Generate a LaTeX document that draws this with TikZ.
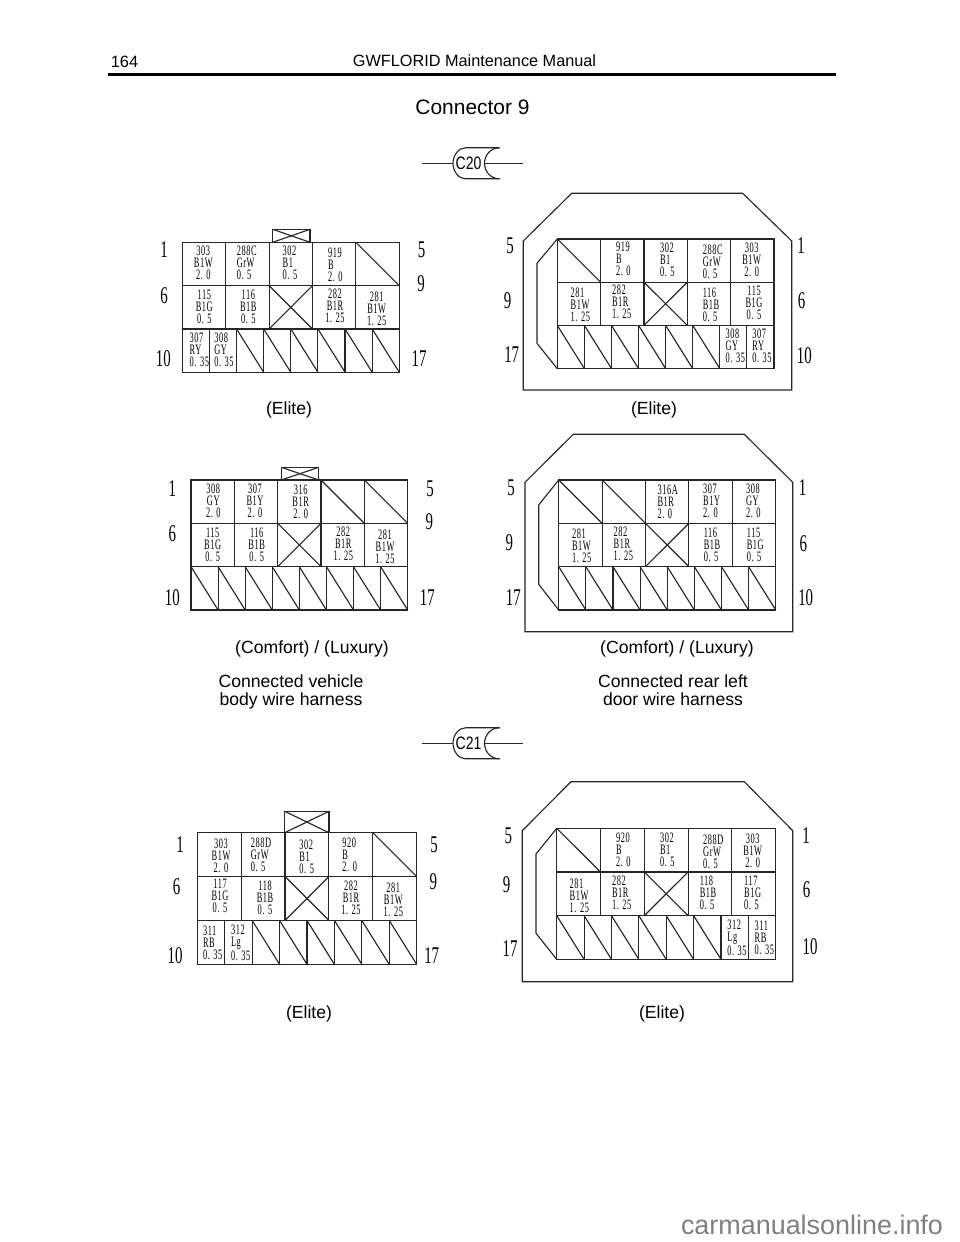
\documentclass[tikz,border=0pt]{standalone}
\usepackage{fontspec}
\setmainfont{Liberation Sans}
\newfontfamily\wirefont[FakeStretch=0.58,LetterSpace=4]{Liberation Serif}
\newfontfamily\narrowserif[FakeStretch=0.62]{Liberation Serif}
\newfontfamily\narrowsans[FakeStretch=0.78]{Liberation Sans}
\tikzset{
	wirelabel/.style={inner sep=0pt, align=center, font=\fontsize{10.8}{9}\wirefont},
	leftwire/.style={align=left},
	pinlabel/.style={inner sep=0pt, font=\fontsize{18}{18}\narrowserif},
	caption/.style={inner sep=0pt, align=center, font=\fontsize{13.2}{13.5}\selectfont},
	hull/.style={line width=0.85pt, draw=black!85},
	cavity/.style 2 args={x=#1*0.75pt, y=-#2*0.75pt, line width=0.85pt, draw=black!85}
}
\def\wire[#1]#2(#3)#4{\node[wirelabel,#1] (#2) at (#3) {#4};}
\def\pin#1(#2)#3{\node[pinlabel] (#1) at (#2) {#3};}
\def\slashcell(#1,#2){\draw (#1,#2) -- ++(1,1);}
\def\crosscell(#1,#2){\draw (#1,#2) -- ++(1,1); \draw (#1+1,#2) -- ++(-1,1);}
\def\cavitygrid{
	\draw (0,0) rectangle (5,3);
	\draw (0,1) -- (5,1);
	\draw (0,2) -- (5,2);
	\foreach \i in {1,...,4} \draw (\i,0) -- (\i,2);
	\foreach \i in {1,...,7} \draw (\i*0.625,2) -- (\i*0.625,3);
}
\def\latch(#1)(#2){\draw[hull] (#1) rectangle (#2); \draw[hull] (#1 -| #2) -- (#1 |- #2); \draw[hull] (#1) -- (#2);}
\def\plugtag#1(#2)#3{
	\begin{scope}[shift={(#2)}]
		\node[inner sep=0pt, font=\fontsize{13.5}{13.5}\narrowsans] (#1) at (0,0) {#3};
		\coordinate (#1w) at (-47,0);
		\coordinate (#1e) at (54,0);
		\draw[hull] (#1w) -- (-15.5,0);
		\draw[hull] (16,0) -- (#1e);
		\draw[hull] (31,-15.5) -- (-3,-15.5) .. controls (-10,-15.5) and (-15.5,-8) .. (-15.5,0) .. controls (-15.5,8) and (-10,15.5) .. (-3,15.5) -- (31,15.5);
		\draw[hull] (31,-15.5) .. controls (22,-15.5) and (16,-8) .. (16,0) .. controls (16,8) and (22,15.5) .. (31,15.5);
	\end{scope}
}

\begin{document}
\begin{tikzpicture}[x=0.75pt, y=-0.75pt]
		\useasboundingbox (0,0) rectangle (960,1242);
		
		%%%%% PAGE HEAD %%%%%
		\node[inner sep=0pt, font=\fontsize{12.3}{14}\selectfont] (pagenum) at (124.5,62) {164};
		\node[inner sep=0pt, font=\fontsize{12.2}{14}\selectfont] (manual) at (474.5,61) {GWFLORID Maintenance Manual};
		\draw[line width=2pt] (108,74.5) -- (836,74.5);
		\node[caption, font=\fontsize{15.7}{16}\selectfont] (title) at (472.5,107) {Connector 9};
		
		\plugtag{cXX}(468.5,163.3){C20}
		\plugtag{cXI}(468.5,743.3){C21}
		
		%%%%% ELITE, VEHICLE SIDE %%%%%
		\latch(272.7,229.3)(310,242.3)
		\begin{scope}[shift={(182.3,242.3)}, cavity={43.4}{43.33}]
			\cavitygrid
			\slashcell(4,0)
			\crosscell(2,1)
			\foreach \i in {2,...,7} \draw (\i*0.625,2) -- ++(0.625,1);
		\end{scope}
		\wire[]{aa}(203.3,263){303\\B1W\\2. 0}
		\wire[leftwire]{ab}(246.7,263){288C\\GrW\\0. 5}
		\wire[leftwire]{ac}(290,263){302\\B1\\0. 5}
		\wire[leftwire]{ad}(335.3,264.7){919\\B\\2. 0}
		\wire[]{ae}(204.3,307){115\\B1G\\0. 5}
		\wire[]{af}(248.3,307.3){116\\B1B\\0. 5}
		\wire[]{ag}(335,306.3){282\\B1R\\1. 25}
		\wire[]{ah}(376.7,309){281\\B1W\\1. 25}
		\wire[leftwire]{ai}(199.3,350.3){307\\RY\\0. 35}
		\wire[leftwire]{aj}(224,350.3){308\\GY\\0. 35}
		\pin{ap}(164,249.3){1}
		\pin{aq}(164,295.7){6}
		\pin{ar}(163.3,359){10}
		\pin{as}(421.7,249.3){5}
		\pin{at}(421,284){9}
		\pin{au}(419,359){17}
		\node[caption] (acap) at (289,410) {(Elite)};
		
		%%%%% ELITE, DOOR SIDE %%%%%
		\draw[hull] (523.3,241) -- (571.7,193.3) -- (742.7,193.3) -- (791.7,241) -- (791.7,390) -- (523.3,390) -- cycle;
		\draw[hull] (557.3,239) -- (537,263.3) -- (537,343.3) -- (557.3,368.7);
		\begin{scope}[shift={(557.3,239)}, cavity={43.33}{43.2}]
			\cavitygrid
			\slashcell(0,0)
			\crosscell(2,1)
			\foreach \i in {0,...,5} \draw (\i*0.625,2) -- ++(0.625,1);
		\end{scope}
		\wire[leftwire]{ba}(623.3,259.3){919\\B\\2. 0}
		\wire[leftwire]{bb}(667.3,260.3){302\\B1\\0. 5}
		\wire[leftwire]{bc}(712.7,262){288C\\GrW\\0. 5}
		\wire[]{bd}(751.7,260.3){303\\B1W\\2. 0}
		\wire[leftwire]{be}(580.3,305.3){281\\B1W\\1. 25}
		\wire[leftwire]{bf}(621.7,302){282\\B1R\\1. 25}
		\wire[leftwire]{bg}(711,305){116\\B1B\\0. 5}
		\wire[]{bh}(754,303){115\\B1G\\0. 5}
		\wire[leftwire]{bi}(735.3,346.3){308\\GY\\0. 35}
		\wire[leftwire]{bj}(762,346.3){307\\RY\\0. 35}
		\pin{bp}(801,246){1}
		\pin{bq}(801.7,300.7){6}
		\pin{br}(804.3,355.7){10}
		\pin{bs}(510,246){5}
		\pin{bt}(507.7,300.7){9}
		\pin{bu}(511.7,355){17}
		\node[caption] (bcap) at (654,410) {(Elite)};
		
		%%%%% COMFORT / LUXURY, VEHICLE SIDE %%%%%
		\latch(281.3,467.3)(318.7,480)
		\begin{scope}[shift={(191,480)}, cavity={43.33}{43.33}]
			\cavitygrid
			\slashcell(3,0)
			\slashcell(4,0)
			\crosscell(2,1)
			\foreach \i in {0,...,7} \draw (\i*0.625,2) -- ++(0.625,1);
		\end{scope}
		\wire[]{ca}(213.3,500.7){308\\GY\\2. 0}
		\wire[]{cb}(255,500.7){307\\B1Y\\2. 0}
		\wire[]{cc}(300.7,501.7){316\\B1R\\2. 0}
		\wire[]{cd}(212.7,544.7){115\\B1G\\0. 5}
		\wire[]{ce}(256.7,545){116\\B1B\\0. 5}
		\wire[]{cf}(343.3,543.7){282\\B1R\\1. 25}
		\wire[]{cg}(385,546.7){281\\B1W\\1. 25}
		\pin{cp}(172.3,488.3){1}
		\pin{cq}(172.3,534){6}
		\pin{cr}(172.3,597.7){10}
		\pin{cs}(430,488.3){5}
		\pin{ct}(429.3,521.7){9}
		\pin{cu}(427.3,597.7){17}
		\node[caption] (ccap) at (312,649) {(Comfort) / (Luxury)};
		\node[caption] (cwire) at (291,692) {Connected vehicle\\body wire harness};
		
		%%%%% COMFORT / LUXURY, DOOR SIDE %%%%%
		\draw[hull] (525,482.3) -- (573.3,434.3) -- (744.3,434.3) -- (792.7,482.3) -- (792.7,631.7) -- (525,631.7) -- cycle;
		\draw[hull] (558.7,480) -- (538.7,505) -- (538.7,584.3) -- (558.7,610);
		\begin{scope}[shift={(558.7,480)}, cavity={43.4}{43.33}]
			\cavitygrid
			\slashcell(0,0)
			\slashcell(1,0)
			\crosscell(2,1)
			\foreach \i in {0,...,7} \draw (\i*0.625,2) -- ++(0.625,1);
		\end{scope}
		\wire[leftwire]{da}(667.7,502){316A\\B1R\\2. 0}
		\wire[leftwire]{db}(711.7,500.7){307\\B1Y\\2. 0}
		\wire[leftwire]{dc}(753.3,500.7){308\\GY\\2. 0}
		\wire[leftwire]{dd}(581.7,546.3){281\\B1W\\1. 25}
		\wire[leftwire]{de}(623.3,543.7){282\\B1R\\1. 25}
		\wire[leftwire]{df}(712,545){116\\B1B\\0. 5}
		\wire[leftwire]{dg}(755.3,544.7){115\\B1G\\0. 5}
		\pin{dp}(802.7,487.3){1}
		\pin{dq}(803.3,543.3){6}
		\pin{dr}(805.7,597.3){10}
		\pin{ds}(511,487.3){5}
		\pin{dt}(509.3,542.3){9}
		\pin{du}(513.3,597.3){17}
		\node[caption] (dcap) at (677,649) {(Comfort) / (Luxury)};
		\node[caption] (dwire) at (673,690) {Connected rear left\\door wire harness};
		
		%%%%% C21 ELITE, VEHICLE SIDE %%%%%
		\latch(284.7,811.3)(329,832.7)
		\begin{scope}[shift={(197.3,832.7)}, cavity={43.87}{43.87}]
			\cavitygrid
			\slashcell(4,0)
			\crosscell(2,1)
			\foreach \i in {2,...,7} \draw (\i*0.625,2) -- ++(0.625,1);
		\end{scope}
		\wire[]{ea}(221,855.7){303\\B1W\\2. 0}
		\wire[leftwire]{eb}(261,855){288D\\GrW\\0. 5}
		\wire[leftwire]{ec}(306.7,856.7){302\\B1\\0. 5}
		\wire[leftwire]{ed}(349.7,855.3){920\\B\\2. 0}
		\wire[]{ee}(220,895.7){117\\B1G\\0. 5}
		\wire[]{ef}(265,898.3){118\\B1B\\0. 5}
		\wire[]{eg}(351,898.3){282\\B1R\\1. 25}
		\wire[]{eh}(393.3,900){281\\B1W\\1. 25}
		\wire[leftwire]{ei}(212.7,943.3){311\\RB\\0. 35}
		\wire[leftwire]{ej}(240.7,942.7){312\\Lg\\0. 35}
		\pin{ep}(180,844.3){1}
		\pin{eq}(176.7,886.7){6}
		\pin{er}(175,956){10}
		\pin{es}(434,844.3){5}
		\pin{et}(433.3,881.7){9}
		\pin{eu}(431.7,956){17}
		\node[caption] (ecap) at (309,1014) {(Elite)};
		
		%%%%% C21 ELITE, DOOR SIDE %%%%%
		\draw[hull] (522.3,830.7) -- (571,781.7) -- (744.3,781.7) -- (792.7,830.7) -- (792.7,981.7) -- (522.3,981.7) -- cycle;
		\draw[hull] (556.7,828.3) -- (536,854) -- (536,933.3) -- (556.7,959.3);
		\begin{scope}[shift={(556.7,828.3)}, cavity={43.8}{43.67}]
			\cavitygrid
			\slashcell(0,0)
			\crosscell(2,1)
			\foreach \i in {0,...,5} \draw (\i*0.625,2) -- ++(0.625,1);
		\end{scope}
		\wire[leftwire]{fa}(623.3,849.7){920\\B\\2. 0}
		\wire[leftwire]{fb}(667.3,850){302\\B1\\0. 5}
		\wire[leftwire]{fc}(713.3,852){288D\\GrW\\0. 5}
		\wire[]{fd}(752.7,851){303\\B1W\\2. 0}
		\wire[leftwire]{fe}(579.3,895.7){281\\B1W\\1. 25}
		\wire[leftwire]{ff}(621.7,892.7){282\\B1R\\1. 25}
		\wire[leftwire]{fg}(708,893.3){118\\B1B\\0. 5}
		\wire[leftwire]{fh}(752.7,893.3){117\\B1G\\0. 5}
		\wire[leftwire]{fi}(737,937.7){312\\Lg\\0. 35}
		\wire[leftwire]{fj}(764.3,937.7){311\\RB\\0. 35}
		\pin{fp}(806,836){1}
		\pin{fq}(806.7,889.3){6}
		\pin{fr}(810,946.7){10}
		\pin{fs}(508.3,836){5}
		\pin{ft}(506.7,885){9}
		\pin{fu}(510,948.3){17}
		\node[caption] (fcap) at (662,1014) {(Elite)};
		
		\node[inner sep=0pt, text=black!50, font=\fontsize{20.2}{21}\selectfont] (site) at (812,1224.5) {carmanualsonline.info};
	\end{tikzpicture}
\end{document}
